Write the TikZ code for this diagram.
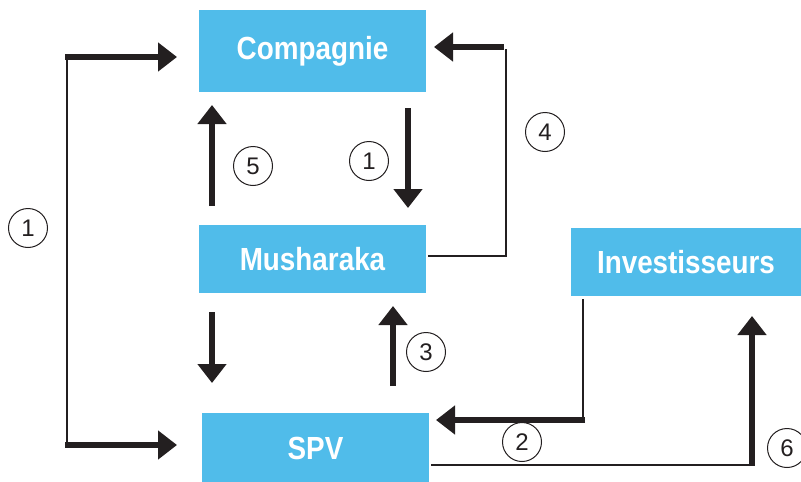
\documentclass[tikz,border=0pt]{standalone}
\usepackage{fontspec}
\setmainfont{Liberation Sans}
\newfontfamily\boxfont[FakeStretch=0.87]{Liberation Sans}
\usetikzlibrary{arrows.meta}
\definecolor{boxblue}{RGB}{80,188,234}
\definecolor{ink}{RGB}{35,31,32}
\begin{document}
\begin{tikzpicture}[x=1pt,y=-1pt,
  box/.style={fill=boxblue, draw=none, inner sep=0pt, text=white,
    font=\boxfont\bfseries\fontsize{32}{32}\selectfont},
  bigarrow/.style={draw=ink, line width=6pt, -{Triangle[length=19pt,width=28pt]}},
  thinline/.style={draw=ink, line width=1.6pt},
  num/.style={circle, draw=ink, line width=1pt, minimum size=39pt, inner sep=0pt,
    text=ink, font=\fontsize{24}{24}\selectfont}]
\useasboundingbox (0,0) rectangle (801,482);
% boxes
\node[box, minimum width=227pt, minimum height=82pt] (comp) at (312.5,51) {Compagnie};
\node[box, minimum width=227pt, minimum height=68pt] (mush) at (312.5,259) {Musharaka};
\node[box, minimum width=227pt, minimum height=70pt] (spv) at (315.5,448) {SPV};
\node[box, minimum width=230pt, minimum height=68pt] (inv) at (686,262) {Investisseurs};
% coordinates
\coordinate (lt) at (67,57);
\coordinate (lb) at (67,445);
\coordinate (ltip) at (177,57);
\coordinate (lbtip) at (177,445);
\coordinate (a5s) at (212,206);
\coordinate (a5e) at (212,105);
\coordinate (a1s) at (408,108);
\coordinate (a1e) at (408,208);
\coordinate (ads) at (212,312);
\coordinate (ade) at (212,383);
\coordinate (a3s) at (393,386);
\coordinate (a3e) at (393,306);
\coordinate (a4a) at (428,256);
\coordinate (a4b) at (506,256);
\coordinate (a4c) at (506,49);
\coordinate (a4s) at (504,47);
\coordinate (a4e) at (434,47);
\coordinate (a2a) at (583,299);
\coordinate (a2b) at (583,420);
\coordinate (a2s) at (585,420);
\coordinate (a2e) at (436,420);
\coordinate (a6a) at (431,465);
\coordinate (a6b) at (754,465);
\coordinate (a6s) at (752,466);
\coordinate (a6e) at (752,316);
% left bracket (1)
\draw[draw=ink, line width=2.6pt] (lt) -- (lb);
\draw[bigarrow] ([xshift=-2pt]lt) -- (ltip);
\draw[bigarrow] ([xshift=-2pt]lb) -- (lbtip);
% vertical arrows
\draw[bigarrow] (a5s) -- (a5e);
\draw[bigarrow] (a1s) -- (a1e);
\draw[bigarrow] (ads) -- (ade);
\draw[bigarrow] (a3s) -- (a3e);
% arrow 4
\draw[thinline] (a4a) -- (a4b) -- (a4c);
\draw[bigarrow] (a4s) -- (a4e);
% arrow 2
\draw[thinline] (a2a) -- (a2b);
\draw[bigarrow] (a2s) -- (a2e);
% arrow 6
\draw[thinline] (a6a) -- (a6b);
\draw[bigarrow] (a6s) -- (a6e);
% numbers
\node[num] (n1l) at (28,228) {1};
\node[num] (n5) at (253,166) {5};
\node[num] (n1m) at (369,161) {1};
\node[num] (n4) at (545,132) {4};
\node[num] (n3) at (426,352) {3};
\node[num] (n2) at (522,442) {2};
\node[num] (n6) at (787,448) {6};
\end{tikzpicture}
\end{document}
